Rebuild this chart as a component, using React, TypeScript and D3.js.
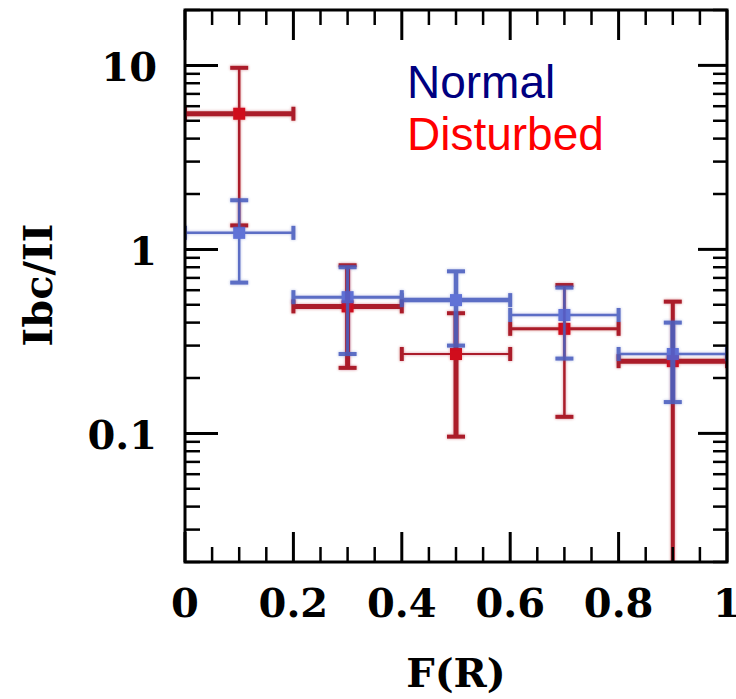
import React from "react";
import * as d3 from "d3";

// Bins in F(R)
const binLo = [0, 0.2, 0.4, 0.6, 0.8];
const binHi = [0.2, 0.4, 0.6, 0.8, 1.0];
const binMid = [0.1, 0.3, 0.5, 0.7, 0.9];

// Normal sample: Ibc/II ratio with error range
const normalValue = [1.23, 0.55, 0.53, 0.44, 0.27];
const normalUpper = [1.85, 0.8, 0.76, 0.62, 0.4];
const normalLower = [0.66, 0.27, 0.3, 0.255, 0.148];

// Disturbed sample
const disturbedValue = [5.46, 0.49, 0.27, 0.37, 0.247];
const disturbedUpper = [9.7, 0.82, 0.45, 0.64, 0.52];
const disturbedLower = [1.35, 0.227, 0.096, 0.123, 0.005];

// Axis tick labels
const xTickLabels = ["0", "0.2", "0.4", "0.6", "0.8", "1"];
const yTickLabels = ["0.1", "1", "10"];

// Stroke widths of each cross (horizontal bar, vertical bar)
const normalHWidth = [2.5, 3, 4.5, 2.5, 2.5];
const normalVWidth = [2.5, 3, 4.5, 2.5, 5];
const disturbedHWidth = [5, 5, 2, 3, 5];
const disturbedVWidth = [2.5, 5, 5, 2.5, 4];

const W = 736;
const H = 699;
const left = 185;
const right = 727;
const top = 10;
const bottom = 562;

const x = d3.scaleLinear().domain([0, 1]).range([left, right]);
const y = d3.scaleLog().domain([0.02, 20]).range([bottom, top]);

const tickFont = "'DejaVu Serif', serif";

type Series = {
  value: number[];
  upper: number[];
  lower: number[];
  hw: number[];
  vw: number[];
  color: string;
  marker: string;
  opacity: number;
};

function Crosses({ s }: { s: Series }) {
  return (
    <g opacity={s.opacity} filter="url(#soft)">
      {s.value.map((v, i) => {
        const cx = x(binMid[i]);
        const cy = y(v);
        const x0 = x(binLo[i]);
        const x1 = x(binHi[i]);
        const yTop = y(s.upper[i]);
        const yBot = y(s.lower[i]);
        return (
          <g key={i}>
            <line x1={x0} x2={x1} y1={cy} y2={cy} stroke={s.color} strokeWidth={s.hw[i]} />
            <line x1={x0} x2={x0} y1={cy - 7} y2={cy + 7} stroke={s.color} strokeWidth={4} />
            <line x1={x1} x2={x1} y1={cy - 7} y2={cy + 7} stroke={s.color} strokeWidth={4} />
            <line x1={cx} x2={cx} y1={yTop} y2={yBot} stroke={s.color} strokeWidth={s.vw[i]} />
            <line x1={cx - 9} x2={cx + 9} y1={yTop} y2={yTop} stroke={s.color} strokeWidth={4} />
            <line x1={cx - 9} x2={cx + 9} y1={yBot} y2={yBot} stroke={s.color} strokeWidth={4} />
            <rect x={cx - 6} y={cy - 6} width={12} height={12} fill={s.marker} />
          </g>
        );
      })}
    </g>
  );
}

export default function App() {
  const xMajor = d3.range(0, 1.0001, 0.2);
  const xMinor = d3.range(0, 1.0001, 0.05).filter((t) => Math.abs(t / 0.2 - Math.round(t / 0.2)) > 1e-6);
  const yAll: number[] = [];
  for (let e = -2; e <= 1; e++) {
    for (let k = 1; k <= 9; k++) {
      const v = k * Math.pow(10, e);
      if (v >= 0.02 - 1e-9 && v <= 20 + 1e-9) yAll.push(v);
    }
  }
  const isMajor = (v: number) => Math.abs(Math.log10(v) - Math.round(Math.log10(v))) < 1e-9;
  const yMajor = yAll.filter(isMajor);
  const yMinor = yAll.filter((v) => !isMajor(v));

  const normal: Series = {
    value: normalValue,
    upper: normalUpper,
    lower: normalLower,
    hw: normalHWidth,
    vw: normalVWidth,
    color: "#4c5fbf",
    marker: "#4f63d2",
    opacity: 0.9,
  };
  const disturbed: Series = {
    value: disturbedValue,
    upper: disturbedUpper,
    lower: disturbedLower,
    hw: disturbedHWidth,
    vw: disturbedVWidth,
    color: "#ab1f2a",
    marker: "#d0101e",
    opacity: 1,
  };

  return (
    <svg
      width={W}
      height={H}
      style={{ position: "absolute", left: 0, top: 0, background: "#fff" }}
    >
      <defs>
        <clipPath id="plotArea">
          <rect x={left} y={top} width={right - left} height={bottom - top} />
        </clipPath>
        <filter id="soft" x="-10%" y="-10%" width="120%" height="120%">
          <feGaussianBlur in="SourceGraphic" stdDeviation="1.6" result="b" />
          <feComponentTransfer in="b" result="halo">
            <feFuncA type="linear" slope="0.45" />
          </feComponentTransfer>
          <feGaussianBlur in="SourceGraphic" stdDeviation="0.5" result="s" />
          <feMerge>
            <feMergeNode in="halo" />
            <feMergeNode in="s" />
          </feMerge>
        </filter>
      </defs>

      {/* data */}
      <g clipPath="url(#plotArea)">
        <Crosses s={disturbed} />
        <Crosses s={normal} />
      </g>

      {/* ticks */}
      <g stroke="#000">
        {xMajor.map((t, i) => (
          <g key={"xM" + i} strokeWidth={3}>
            <line x1={x(t)} x2={x(t)} y1={bottom} y2={bottom - 30} />
            <line x1={x(t)} x2={x(t)} y1={top} y2={top + 30} />
          </g>
        ))}
        {xMinor.map((t, i) => (
          <g key={"xm" + i} strokeWidth={2.5}>
            <line x1={x(t)} x2={x(t)} y1={bottom} y2={bottom - 15} />
            <line x1={x(t)} x2={x(t)} y1={top} y2={top + 15} />
          </g>
        ))}
        {yMajor.map((v, i) => (
          <g key={"yM" + i} strokeWidth={3}>
            <line x1={left} x2={left + 33} y1={y(v)} y2={y(v)} />
            <line x1={right} x2={right - 29} y1={y(v)} y2={y(v)} />
          </g>
        ))}
        {yMinor.map((v, i) => (
          <g key={"ym" + i} strokeWidth={2.5}>
            <line x1={left} x2={left + 15} y1={y(v)} y2={y(v)} />
            <line x1={right} x2={right - 14} y1={y(v)} y2={y(v)} />
          </g>
        ))}
      </g>

      {/* frame */}
      <rect
        x={left}
        y={top}
        width={right - left}
        height={bottom - top}
        fill="none"
        stroke="#000"
        strokeWidth={3}
      />

      {/* tick labels */}
      <g fontFamily={tickFont} fontWeight="bold" fontSize={40} fill="#000">
        {xMajor.map((t, i) => (
          <text key={"xl" + i} x={x(t)} y={617} textAnchor="middle">
            {xTickLabels[i]}
          </text>
        ))}
        {yMajor.map((v, i) => (
          <text key={"yl" + i} x={157} y={y(v) + 16} textAnchor="end">
            {yTickLabels[i]}
          </text>
        ))}
      </g>

      {/* axis titles */}
      <text
        x={(left + right) / 2}
        y={687}
        textAnchor="middle"
        fontFamily={tickFont}
        fontWeight="bold"
        fontSize={40}
      >
        F(R)
      </text>
      <text
        transform={`translate(52, ${285}) rotate(-90)`}
        textAnchor="middle"
        fontFamily={tickFont}
        fontWeight="bold"
        fontSize={40}
      >
        Ibc/II
      </text>

      {/* legend */}
      <g fontFamily="'Liberation Sans', Arial, sans-serif" fontSize={46}>
        <text x={407} y={98} fill="#000080">
          Normal
        </text>
        <text x={407} y={150} fill="#ff0000">
          Disturbed
        </text>
      </g>
    </svg>
  );
}
